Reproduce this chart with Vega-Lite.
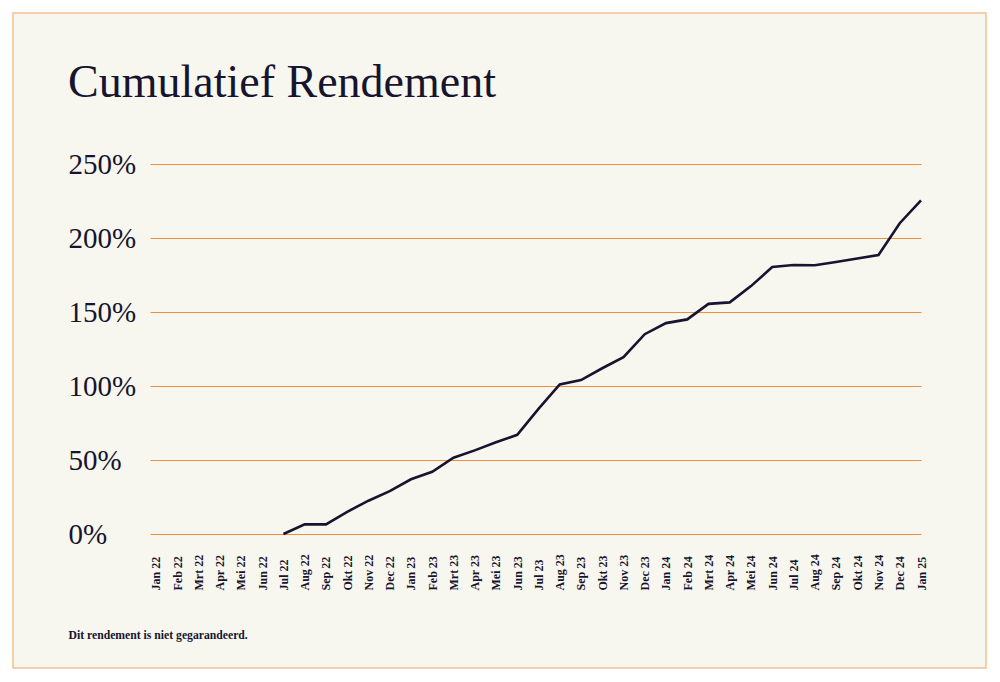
{
  "$schema": "https://vega.github.io/schema/vega-lite/v6.json",
  "width": 973,
  "height": 655,
  "autosize": {"type": "none"},
  "padding": {"left": 13, "top": 13, "right": 14, "bottom": 14},
  "background": "#ffffff",
  "title": {
    "text": "Cumulatief Rendement",
    "orient": "top",
    "anchor": "start",
    "frame": "group",
    "offset": -94,
    "dx": 55,
    "font": "Liberation Serif",
    "fontSize": 46,
    "fontWeight": "normal",
    "color": "#16142e"
  },
  "data": {
    "values": [
      {"maand": "Jan 22", "rendement": null},
      {"maand": "Feb 22", "rendement": null},
      {"maand": "Mrt 22", "rendement": null},
      {"maand": "Apr 22", "rendement": null},
      {"maand": "Mei 22", "rendement": null},
      {"maand": "Jun 22", "rendement": null},
      {"maand": "Jul 22", "rendement": 0},
      {"maand": "Aug 22", "rendement": 6.5},
      {"maand": "Sep 22", "rendement": 6.5},
      {"maand": "Okt 22", "rendement": 15},
      {"maand": "Nov 22", "rendement": 22.5},
      {"maand": "Dec 22", "rendement": 29},
      {"maand": "Jan 23", "rendement": 37},
      {"maand": "Feb 23", "rendement": 42},
      {"maand": "Mrt 23", "rendement": 51.5},
      {"maand": "Apr 23", "rendement": 56.5},
      {"maand": "Mei 23", "rendement": 62},
      {"maand": "Jun 23", "rendement": 67},
      {"maand": "Jul 23", "rendement": 84.5},
      {"maand": "Aug 23", "rendement": 101},
      {"maand": "Sep 23", "rendement": 104},
      {"maand": "Okt 23", "rendement": 112},
      {"maand": "Nov 23", "rendement": 119.5},
      {"maand": "Dec 23", "rendement": 135},
      {"maand": "Jan 24", "rendement": 142.5},
      {"maand": "Feb 24", "rendement": 145},
      {"maand": "Mrt 24", "rendement": 155.5},
      {"maand": "Apr 24", "rendement": 156.5},
      {"maand": "Mei 24", "rendement": 167.5},
      {"maand": "Jun 24", "rendement": 180.4},
      {"maand": "Jul 24", "rendement": 181.8},
      {"maand": "Aug 24", "rendement": 181.6},
      {"maand": "Sep 24", "rendement": 183.8},
      {"maand": "Okt 24", "rendement": 186.2},
      {"maand": "Nov 24", "rendement": 188.5},
      {"maand": "Dec 24", "rendement": 210},
      {"maand": "Jan 25", "rendement": 225.5}
    ]
  },
  "mark": {"type": "line", "color": "#16142e", "strokeWidth": 2.6, "strokeJoin": "miter"},
  "encoding": {
    "x": {
      "field": "maand",
      "type": "ordinal",
      "sort": null,
      "scale": {
        "type": "point",
        "domain": ["Jan 22", "Feb 22", "Mrt 22", "Apr 22", "Mei 22", "Jun 22", "Jul 22", "Aug 22", "Sep 22", "Okt 22", "Nov 22", "Dec 22",
                   "Jan 23", "Feb 23", "Mrt 23", "Apr 23", "Mei 23", "Jun 23", "Jul 23", "Aug 23", "Sep 23", "Okt 23", "Nov 23", "Dec 23",
                   "Jan 24", "Feb 24", "Mrt 24", "Apr 24", "Mei 24", "Jun 24", "Jul 24", "Aug 24", "Sep 24", "Okt 24", "Nov 24", "Dec 24", "Jan 25"],
        "range": [137, 908],
        "padding": 0.14,
        "align": 1
      },
      "axis": {
        "orient": "bottom",
        "offset": -134,
        "domain": false,
        "ticks": false,
        "grid": false,
        "labelAngle": 270,
        "labelAlign": "left",
        "labelBaseline": "middle",
        "labelPadding": 56,
        "labelFont": "Liberation Serif",
        "labelFontSize": 12,
        "labelFontWeight": "bold",
        "labelColor": "#16142e",
        "labelOverlap": false,
        "title": "Dit rendement is niet gegarandeerd.",
        "titleFont": "Liberation Serif",
        "titleFontSize": 11.7,
        "titleFontWeight": "bold",
        "titleColor": "#16142e",
        "titleAnchor": "start",
        "titleAlign": "left",
        "titleBaseline": "alphabetic",
        "titleX": 55,
        "titleY": 104
      }
    },
    "y": {
      "field": "rendement",
      "type": "quantitative",
      "scale": {"domain": [0, 250], "range": [521, 151], "nice": false, "zero": true},
      "axis": {
        "orient": "left",
        "offset": -55,
        "values": [0, 50, 100, 150, 200, 250],
        "labelExpr": "datum.value + '%'",
        "domain": false,
        "ticks": false,
        "grid": true,
        "gridColor": "#ec8f3c",
        "gridWidth": 1.1,
        "labelAlign": "left",
        "labelBaseline": "middle",
        "labelPadding": 0,
        "labelFont": "Liberation Serif",
        "labelFontSize": 29,
        "labelColor": "#16142e",
        "title": null
      }
    }
  },
  "config": {
    "view": {"fill": "#f8f7ef", "stroke": "#f2c195", "strokeWidth": 1.5}
  }
}
